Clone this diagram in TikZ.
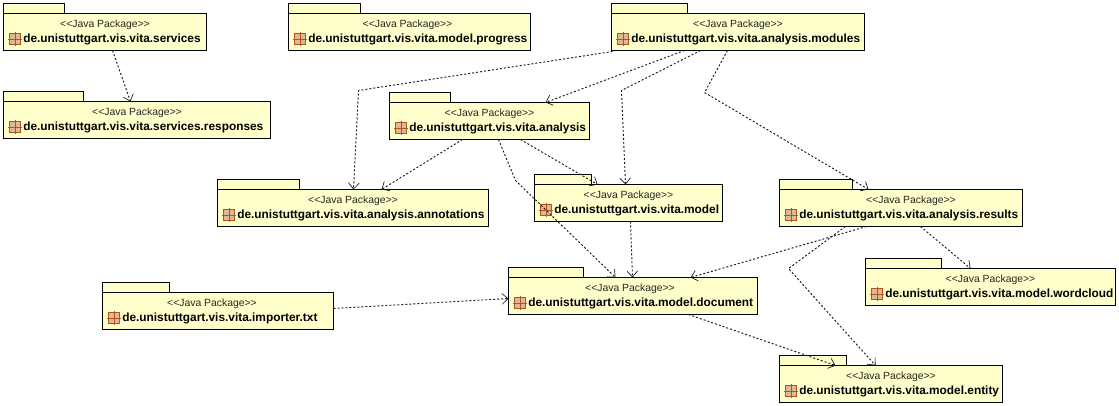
\documentclass[tikz,border=0pt]{standalone}
\usepackage{fontspec}
\setmainfont{Liberation Sans}
\usetikzlibrary{arrows.meta,calc}
\definecolor{pkgfill}{RGB}{255,255,204}
\definecolor{iconfill}{RGB}{222,184,150}
\definecolor{iconline}{RGB}{176,84,32}
\tikzset{
  x=0.75pt,y=-0.75pt,
  pkgbody/.style={draw=black,fill=pkgfill,line width=0.75pt,anchor=north west,inner sep=0pt,outer sep=0pt,minimum height=27.75pt},
  pkgtab/.style={draw=black,fill=pkgfill,line width=0.75pt},
  stereo/.style={inner sep=0pt,font=\fontsize{7.8pt}{9pt}\selectfont,text=black!85},
  pkgname/.style={inner sep=0pt,anchor=west,font=\fontsize{8.9pt}{10pt}\selectfont\bfseries},
  dep/.style={draw=black!90,line width=0.7pt,dash pattern=on 1.5pt off 1.5pt,-{Straight Barb[length=4.5pt,width=8pt,line width=0.5pt]}}
}
\newcommand{\pkgbox}[7][0]{%
  \draw[pkgtab] (#3,#4) rectangle ++(#6,-10);
  \node[pkgbody,minimum width=#5*0.75pt] (#2) at (#3,#4) {};
  \node[stereo] (#2s) at ($(#2.north)+(#1,11.5)$) {<{}<Java Package>{}>};
  \draw[line width=0.5pt,draw=iconline,fill=iconfill] ($(#2.north west)+(6,20)$) rectangle ++(11,11);
  \draw[line width=0.4pt,draw=iconline] ($(#2.north west)+(11.5,18.5)$) -- ++(0,14) ($(#2.north west)+(4.5,25.5)$) -- ++(14,0);
  \node[pkgname] (#2n) at ($(#2.north west)+(19.5,26)$) {#7};
}
\begin{document}
\begin{tikzpicture}
\useasboundingbox[fill=white] (0,0) rectangle (1119,406);
\begin{scope}[shift={(0.5,0.5)}]
\pkgbox{services}{3}{13}{203}{61}{de.unistuttgart.vis.vita.services}
\pkgbox{responses}{3}{101}{267}{80}{de.unistuttgart.vis.vita.services.responses}
\pkgbox[-2]{progress}{288}{13}{242}{72}{de.unistuttgart.vis.vita.model.progress}
\pkgbox{modules}{611}{13}{253}{76}{de.unistuttgart.vis.vita.analysis.modules}
\pkgbox{analysis}{389}{102}{200}{61}{de.unistuttgart.vis.vita.analysis}
\pkgbox{annotations}{217}{189}{271}{82}{de.unistuttgart.vis.vita.analysis.annotations}
\pkgbox{model}{534}{184}{188}{57}{de.unistuttgart.vis.vita.model}
\pkgbox[10]{results}{779}{189}{243}{73}{de.unistuttgart.vis.vita.analysis.results}
\pkgbox[-3]{document}{508}{277}{249}{75}{de.unistuttgart.vis.vita.model.document}
\pkgbox[-6]{importer}{102}{292}{231}{67}{de.unistuttgart.vis.vita.importer.txt}
\pkgbox{wordcloud}{865}{268}{250}{76}{de.unistuttgart.vis.vita.model.wordcloud}
\pkgbox{entity}{779}{365}{223}{67}{de.unistuttgart.vis.vita.model.entity}
\coordinate (b1) at (358,90);
\coordinate (b2) at (621,90);
\coordinate (b3) at (704,92);
\coordinate (b4) at (515,180);
\coordinate (b5) at (788,268);
\draw[dep] ($(services.south west)+(109,0)$) -- ($(responses.north west)+(127,0)$);
\draw[dep] ($(modules.south west)+(1,1)$) -- (b1) -- ($(annotations.north west)+(136,0)$);
\draw[dep] ($(modules.south west)+(73,0)$) -- ($(analysis.north west)+(156,0)$);
\draw[dep] ($(modules.south west)+(89,0)$) -- (b2) -- ($(model.north west)+(91,0)$);
\draw[dep] ($(modules.south west)+(116,0)$) -- (b3) -- ($(results.north west)+(89,0)$);
\draw[dep] ($(analysis.south west)+(73,0)$) -- ($(annotations.north west)+(164,0)$);
\draw[dep] ($(analysis.south west)+(131,0)$) -- ($(model.north west)+(63,0)$);
\draw[dep] ($(analysis.south west)+(109,0)$) -- (b4) -- ($(document.north west)+(107,0)$);
\draw[dep] ($(model.south west)+(96,0)$) -- ($(document.north west)+(124,0)$);
\draw[dep] ($(results.south west)+(87,0)$) -- ($(document.north west)+(182,0)$);
\draw[dep] ($(results.south west)+(141,0)$) -- ($(wordcloud.north west)+(105,0)$);
\draw[dep] ($(results.south west)+(66,0)$) -- (b5) -- ($(entity.north west)+(96,0)$);
\draw[dep] ($(document.south west)+(180,0)$) -- ($(entity.north west)+(56,0)$);
\draw[dep] ($(importer.north east)+(0,16)$) -- ($(document.north west)+(0,21)$);
\end{scope}
\end{tikzpicture}
\end{document}
